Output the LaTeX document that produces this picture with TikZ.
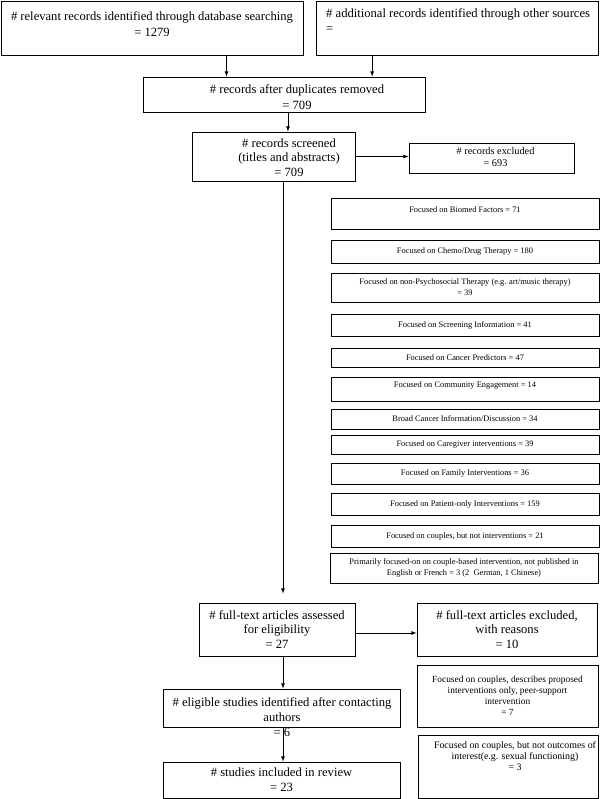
\documentclass[tikz,border=0pt]{standalone}
\usepackage{fontspec}
\setmainfont{Liberation Serif}
\usetikzlibrary{calc}

\begin{document}
\begin{tikzpicture}[x=1pt, y=-1pt, >=latex,
    frame/.style={draw, rectangle, line width=0.9pt, inner sep=0pt},
    main/.style={font=\fontsize{12.6}{15}\selectfont, align=center},
    small/.style={font=\fontsize{8.4}{11}\selectfont, align=center},
    reason/.style={font=\fontsize{9.6}{11}\selectfont, align=center},
    link/.style={->, line width=0.8pt}]
    \useasboundingbox (0,0) rectangle (600,799);

    % Identification: database search
    \node[frame, minimum width=302pt, minimum height=54pt] (db) at (152,28) {};
    \node[main] (dbtext) at (152,24) {\# relevant records identified through database searching\\[1pt] = 1279};
    % Identification: other sources
    \node[frame, minimum width=282pt, minimum height=54pt] (other) at (457,28) {};
    \node[main, align=left, anchor=west, inner sep=0pt] (othertext) at (326,20.5) {\# additional records identified through other sources\\ =};

    % Records after duplicates removed
    \node[frame, minimum width=282pt, minimum height=35pt] (dedup) at (284,94.5) {};
    \node[main] (deduptext) at (297,97) {\# records after duplicates removed\\[1pt] = 709};
    % Records screened
    \node[frame, minimum width=163pt, minimum height=49pt] (screen) at (273.5,156.5) {};
    \node[main, font=\fontsize{12.6}{14.5}\selectfont] (screentext) at (289,157.5) {\# records screened\\ (titles and abstracts)\\ = 709};
    % Records excluded
    \node[frame, minimum width=165pt, minimum height=30pt] (excl) at (491.5,158) {};
    \node[main, font=\fontsize{10.3}{12}\selectfont] (excltext) at (495.5,157) {\# records excluded\\ = 693};

    % Reasons for exclusion
    \node[frame, small, text depth=8pt, minimum width=268pt, minimum height=31pt] (biomed) at (465,214) {Focused on Biomed Factors = 71};
    \node[frame, small, minimum width=268pt, minimum height=23pt] (chemo) at (465,251.5) {Focused on Chemo/Drug Therapy = 180};
    \node[frame, small, minimum width=268pt, minimum height=29pt] (nonpsy) at (465,287.5) {Focused on non-Psychosocial Therapy (e.g. art/music therapy)\\ = 39};
    \node[frame, small, minimum width=268pt, minimum height=22pt] (screening) at (465,325) {Focused on Screening Information = 41};
    \node[frame, small, minimum width=268pt, minimum height=19pt] (predict) at (465,357.5) {Focused on Cancer Predictors = 47};
    \node[frame, small, text depth=8pt, minimum width=268pt, minimum height=24pt] (community) at (465,389) {Focused on Community Engagement = 14};
    \node[frame, small, minimum width=268pt, minimum height=20pt] (broad) at (465,419) {Broad Cancer Information/Discussion = 34};
    \node[frame, small, minimum width=268pt, minimum height=19pt] (caregiver) at (465,444.5) {Focused on Caregiver interventions = 39};
    \node[frame, small, minimum width=268pt, minimum height=21pt] (family) at (465,473.5) {Focused on Family Interventions = 36};
    \node[frame, small, minimum width=268pt, minimum height=22pt] (patient) at (465,504) {Focused on Patient-only Interventions = 159};
    \node[frame, small, minimum width=268pt, minimum height=22pt] (couples) at (465,536) {Focused on couples, but not interventions = 21};
    \node[frame, small, font=\fontsize{8.4}{10.5}\selectfont, minimum width=268pt, minimum height=30pt] (language) at (464,568) {Primarily focused-on on couple-based intervention, not published in\\ English or French = 3 (2~ German, 1 Chinese)};

    % Full-text articles assessed
    \node[frame, main, font=\fontsize{12.6}{14.5}\selectfont, minimum width=156pt, minimum height=53pt] (fulltext) at (277,629.5) {\# full-text articles assessed\\ for eligibility\\ = 27};
    % Full-text articles excluded
    \node[frame, main, font=\fontsize{12.6}{14.5}\selectfont, minimum width=180pt, minimum height=53pt] (ftexcl) at (507,629.5) {\# full-text articles excluded,\\ with reasons\\ = 10};
    \node[frame, reason, font=\fontsize{9.4}{11}\selectfont, minimum width=181pt, minimum height=62pt] (proposed) at (507.5,696) {Focused on couples, describes proposed\\ interventions only, peer-support\\ intervention\\ = 7};
    \node[frame, minimum width=180pt, minimum height=63pt] (outcomes) at (508,766.5) {};
    \node[reason, font=\fontsize{9.9}{11}\selectfont] (outcomestext) at (515,756) {Focused on couples, but not outcomes of\\ interest(e.g. sexual functioning)\\ = 3};

    % Eligible studies after contacting authors
    \node[frame, minimum width=237pt, minimum height=38pt] (eligible) at (281.5,708) {};
    \node[main] (eligibletext) at (282,717) {\# eligible studies identified after contacting\\ authors\\ = 6};
    % Studies included
    \node[frame, main, minimum width=237pt, minimum height=36pt] (included) at (281.5,780) {\# studies included in review\\ = 23};

    % Connectors
    \coordinate (dbout) at ($(db.south west)!0.746!(db.south east)$);
    \coordinate (otherout) at ($(other.south west)!0.2!(other.south east)$);
    \coordinate (dedupout) at ($(dedup.south west)!0.514!(dedup.south east)$);
    \coordinate (trunk) at ($(screen.south west)!0.558!(screen.south east)$);
    \coordinate (ftout) at ($(fulltext.east)+(0,3.5)$);
    \draw[link] (dbout) -- (dbout |- dedup.north);
    \draw[link] (otherout) -- (otherout |- dedup.north);
    \draw[link] (dedupout) -- (dedupout |- screen.north);
    \draw[link] (screen.east) -- (screen.east -| excl.west);
    \draw[link, shorten >=9pt] (trunk) -- (trunk |- fulltext.north);
    \draw[link] (ftout) -- (ftout -| ftexcl.west);
    \draw[link] (trunk |- fulltext.south) -- (trunk |- eligible.north);
    \draw[link] (trunk |- eligible.south) -- (trunk |- included.north);
\end{tikzpicture}
\end{document}
